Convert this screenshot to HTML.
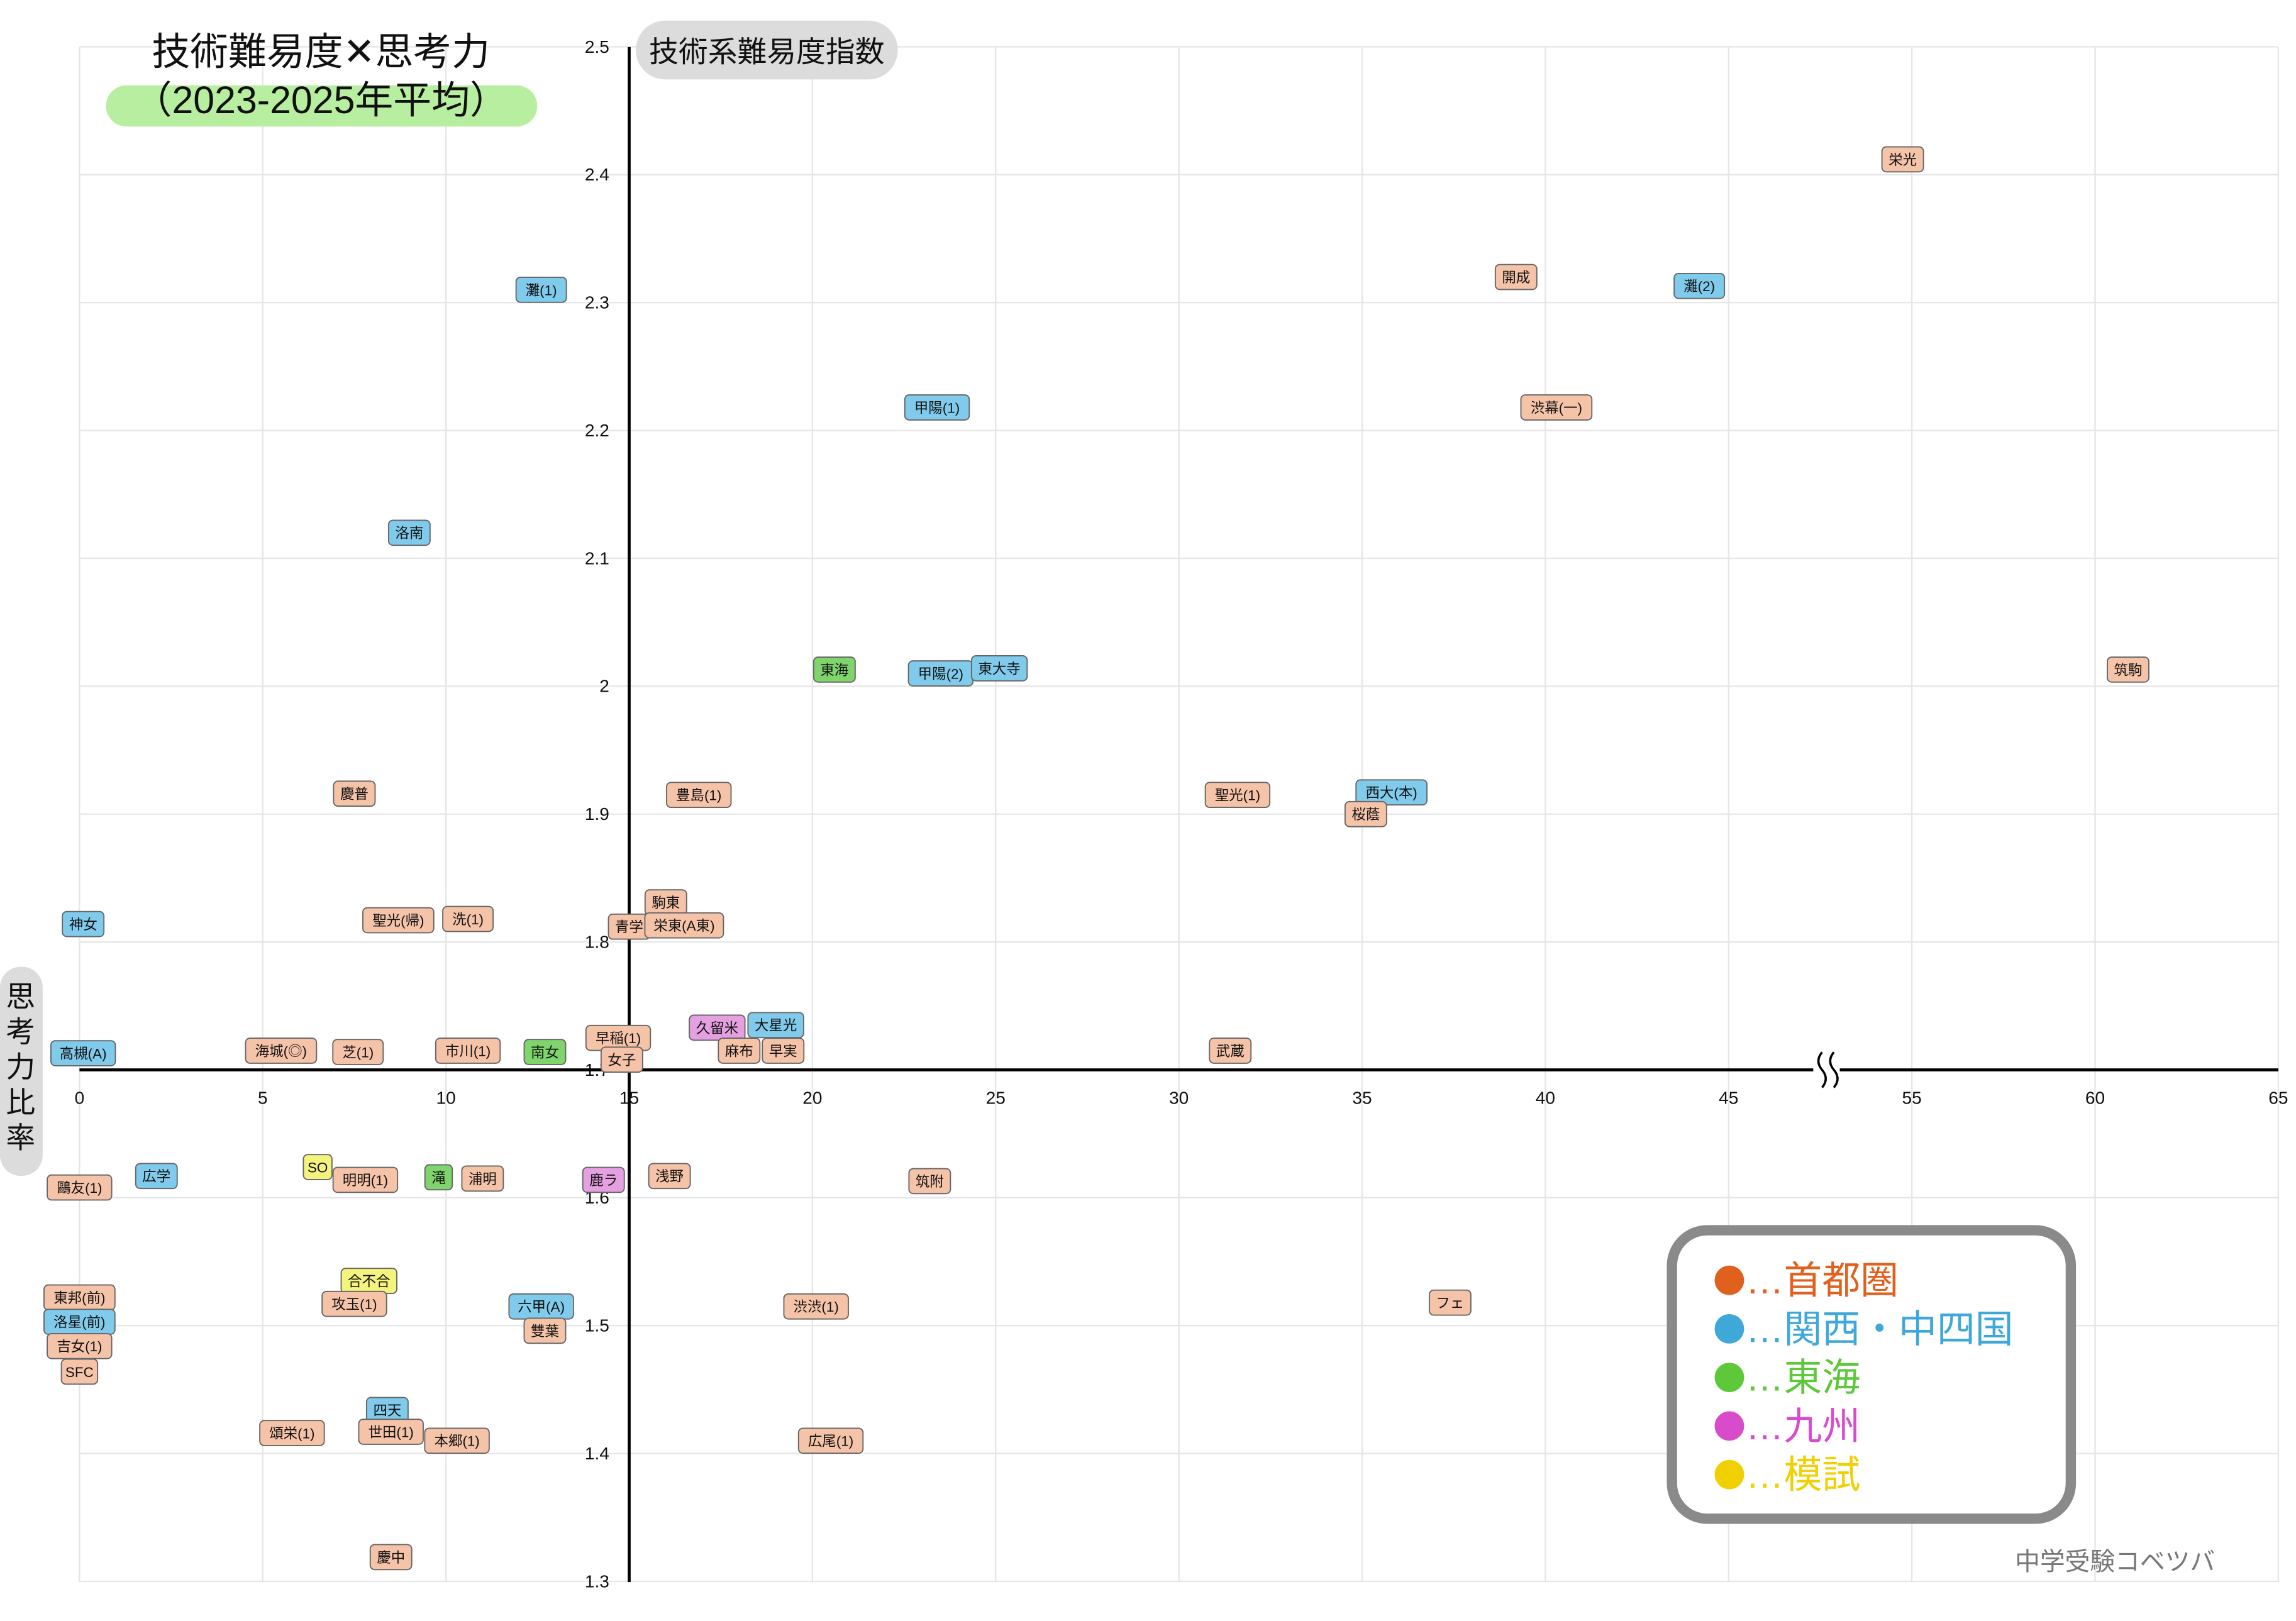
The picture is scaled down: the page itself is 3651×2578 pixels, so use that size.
<!DOCTYPE html>
<html><head><meta charset="utf-8"><style>
html,body{margin:0;padding:0;background:#fff;}
svg{display:block;font-family:"Liberation Sans","Noto Sans CJK JP",sans-serif;}
</style></head><body>
<svg id="chart" width="3651" height="2578" viewBox="0 0 1560 1101.5" xmlns="http://www.w3.org/2000/svg">
<g id="grid"></g>
<g id="axes"></g>
<g id="marks"></g>
<g>
<rect x="72" y="58" width="293" height="28" rx="14" fill="#b8eea0"/>
<text x="218" y="44" text-anchor="middle" font-size="26" fill="#111">技術難易度✕思考力</text>
<text x="218" y="77" text-anchor="middle" font-size="26" fill="#111">（2023-2025年平均）</text>
</g>
<g>
<rect x="432" y="14" width="178" height="40" rx="20" fill="#dcdcdc"/>
<text x="521" y="42" text-anchor="middle" font-size="20" fill="#111">技術系難易度指数</text>
</g>
<g>
<rect x="0" y="657" width="29" height="142" rx="14" fill="#dcdcdc"/>
<text x="14" y="684" text-anchor="middle" font-size="20" fill="#111">思</text>
<text x="14" y="708" text-anchor="middle" font-size="20" fill="#111">考</text>
<text x="14" y="732" text-anchor="middle" font-size="20" fill="#111">力</text>
<text x="14" y="756" text-anchor="middle" font-size="20" fill="#111">比</text>
<text x="14" y="780" text-anchor="middle" font-size="20" fill="#111">率</text>
</g>
<g>
<rect x="1136" y="836" width="271" height="196" rx="24" fill="#fff" stroke="#8a8a8a" stroke-width="7"/>
<g><circle cx="1175" cy="870" r="10" fill="#e0601e"/><text x="1186" y="879" font-size="26" fill="#e0601e">…首都圏</text></g>
<g><circle cx="1175" cy="903" r="10" fill="#3ea8d8"/><text x="1186" y="912" font-size="26" fill="#3ea8d8">…関西・中四国</text></g>
<g><circle cx="1175" cy="936" r="10" fill="#5cc83a"/><text x="1186" y="945" font-size="26" fill="#5cc83a">…東海</text></g>
<g><circle cx="1175" cy="969" r="10" fill="#d84ccc"/><text x="1186" y="978" font-size="26" fill="#d84ccc">…九州</text></g>
<g><circle cx="1175" cy="1002" r="10" fill="#f0d000"/><text x="1186" y="1011" font-size="26" fill="#f0d000">…模試</text></g>
</g>
<text x="1437" y="1067" text-anchor="middle" font-size="17" fill="#777">中学受験コベツバ</text>
</svg>
<script>
const names = ["栄光","開成","灘(2)","灘(1)","渋幕(一)","甲陽(1)","洛南","東海","甲陽(2)","東大寺","筑駒","慶普","豊島(1)","聖光(1)","西大(本)","桜蔭","神女","聖光(帰)","洗(1)","駒東","青学","栄東(A東)","高槻(A)","海城(◎)","芝(1)","市川(1)","南女","早稲(1)","女子","久留米","大星光","麻布","早実","武蔵","広学","SO","明明(1)","滝","浦明","鹿ラ","浅野","筑附","鷗友(1)","合不合","攻玉(1)","東邦(前)","洛星(前)","吉女(1)","SFC","六甲(A)","雙葉","渋渋(1)","フェ","四天","頌栄(1)","世田(1)","本郷(1)","広尾(1)","慶中"];
const xValues = [54.5,39.2,44.2,12.6,40.3,23.4,9.0,20.6,23.5,25.1,60.9,7.5,16.9,31.6,35.8,35.1,0.1,8.7,10.6,16.0,15.0,16.5,0.1,5.5,7.6,10.6,12.7,14.7,14.8,17.4,19.0,18.0,19.2,31.4,2.1,6.5,7.8,9.8,11.0,14.3,16.1,23.2,0.0,7.9,7.5,0.0,0.0,0.0,0.0,12.6,12.7,20.1,37.4,8.4,5.8,8.5,10.3,20.5,8.5];
const yValues = [2.412,2.32,2.313,2.31,2.218,2.218,2.12,2.013,2.01,2.014,2.013,1.916,1.915,1.915,1.917,1.9,1.814,1.817,1.818,1.831,1.812,1.813,1.713,1.715,1.714,1.715,1.714,1.725,1.708,1.733,1.735,1.715,1.715,1.715,1.617,1.624,1.614,1.616,1.615,1.614,1.617,1.613,1.608,1.535,1.517,1.522,1.503,1.484,1.464,1.515,1.496,1.515,1.518,1.434,1.416,1.417,1.41,1.41,1.319];
const regions = ["s","s","k","k","s","k","k","t","k","k","s","s","s","s","k","s","k","s","s","s","s","s","k","s","s","s","t","s","s","q","k","s","s","s","k","m","s","t","s","q","s","s","s","m","s","s","k","s","s","k","s","s","s","k","s","s","s","s","s"];
const xTickLabels = ["0","5","10","15","20","25","30","35","40","45","55","60","65"];
const yTickLabels = ["1.3","1.4","1.5","1.6","1.7","1.8","1.9","2","2.1","2.2","2.3","2.4","2.5"];
const colors = {s:"#f5c3a8",k:"#80cbec",t:"#7fd46c",q:"#e4a0e0",m:"#f4f47c"};
const NS="http://www.w3.org/2000/svg";
const X0=54, STEP=24.9, Y0=727, YS=869;
function xScale(x){ return x<=45 ? X0+x*STEP : (x<55 ? X0+45*STEP+(x-45)*STEP/2 : X0+(x-5)*STEP); }
function yScale(y){ return Y0-(y-1.7)*YS; }
function mk(tag,attrs,parent){const e=document.createElementNS(NS,tag);for(const k in attrs)e.setAttribute(k,attrs[k]);parent.appendChild(e);return e;}
const grid=document.getElementById('grid'), axes=document.getElementById('axes'), marks=document.getElementById('marks');
xTickLabels.forEach(function(t,i){
  const px=X0+i*124.5;
  const l=mk('line',{x1:px,x2:px,y1:32,y2:1075,stroke:'#e6e6e6','stroke-width':1},grid);
  
  
  const tx=mk('text',{x:px,y:750,'text-anchor':'middle','font-size':12,fill:'#111'},axes);
  tx.textContent=t;
  
  
});
yTickLabels.forEach(function(t){
  const py=yScale(parseFloat(t));
  const l=mk('line',{x1:54,x2:1548,y1:py,y2:py,stroke:'#e6e6e6','stroke-width':1},grid);
  
  
  const tx=mk('text',{x:414,y:py+4,'text-anchor':'end','font-size':12,fill:'#111'},axes);
  tx.textContent=t;
  
  
});
const va=mk('line',{x1:xScale(15),x2:xScale(15),y1:32,y2:1075,stroke:'#000','stroke-width':2},axes);


const ha=mk('line',{x1:54,x2:1548,y1:Y0,y2:Y0,stroke:'#000','stroke-width':2},axes);


const br=mk('g',{},axes);


mk('rect',{x:1232,y:715,width:18,height:24,fill:'#fff'},br);
mk('path',{d:'M1238 715 q-5 6 0 12 q5 6 0 12 M1246 715 q-5 6 0 12 q5 6 0 12',fill:'none',stroke:'#000','stroke-width':1.5},br);
names.forEach(function(n,i){
  const cx=xScale(xValues[i]), cy=yScale(yValues[i]);
  let w=0; for(const ch of n){ w += /[\x00-\x7f]/.test(ch)?5.2:9.6; }
  w+=9;
  const g=mk('g',{},marks);
  
  
  mk('rect',{x:cx-w/2,y:cy-8.5,width:w,height:17,rx:3,fill:colors[regions[i]],stroke:'#666','stroke-width':0.8},g);
  const t=mk('text',{x:cx,y:cy+3.6,'text-anchor':'middle','font-size':9.6,fill:'#111'},g);
  t.textContent=n;
});
</script>
</body></html>
